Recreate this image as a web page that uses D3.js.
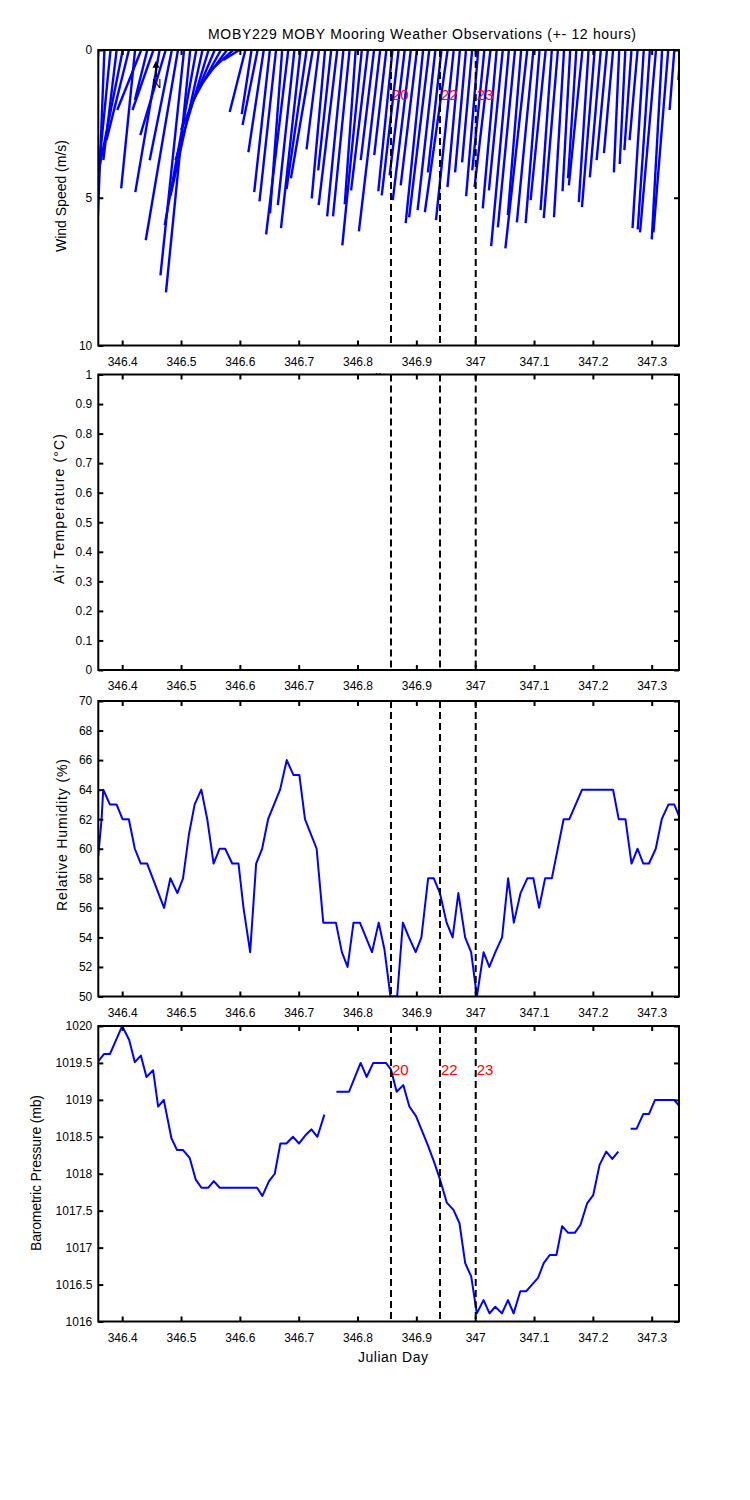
<!DOCTYPE html>
<html>
<head>
<meta charset="utf-8">
<script src="https://cdn.jsdelivr.net/npm/d3@7"></script>
<style>
  body { margin: 0; background: #fff; }
  text { font-family: "Liberation Sans", Arial, sans-serif; }
</style>
</head>
<body>
<svg width="750" height="1500"></svg>
<script>
// wind observations, 15 minute samples
var windDay = [346.3594,346.3698,346.3802,346.3906,346.4010,346.4115,346.4219,346.4323,346.4427,346.4531,
  346.4635,346.4740,346.4844,346.4948,346.5052,346.5156,346.5260,346.5365,346.5469,346.5573,
  346.5677,346.5781,346.5885,346.5990,346.6094,346.6198,346.6302,346.6406,346.6510,346.6615,
  346.6719,346.6823,346.6927,346.7031,346.7135,346.7240,346.7344,346.7448,346.7552,346.7656,
  346.7760,346.7865,346.7969,346.8073,346.8177,346.8281,346.8385,346.8490,346.8594,346.8698,
  346.8802,346.8906,346.9010,346.9115,346.9219,346.9323,346.9427,346.9531,346.9635,346.9740,
  346.9844,346.9948,347.0052,347.0156,347.0260,347.0365,347.0469,347.0573,347.0677,347.0781,
  347.0885,347.0990,347.1094,347.1198,347.1302,347.1406,347.1510,347.1615,347.1719,347.1823,
  347.1927,347.2031,347.2135,347.2240,347.2344,347.2448,347.2552,347.2656,347.2760,347.2865,
  347.2969,347.3073,347.3177,347.3281,347.3385,347.3490];
// east component (m/s)
var windU = [-0.14,-0.22,-0.42,-0.45,-0.81,-0.76,-0.47,-0.81,-0.42,-0.71,
  -0.82,-0.86,-0.75,-1.09,-0.80,-0.82,-1.07,-1.08,-1.12,-1.14,
  -1.02,-0.89,-0.75,-0.54,-0.53,-0.33,-0.51,-0.52,-0.53,-0.56,
  -0.41,-0.75,-0.56,-0.66,-0.68,-0.74,-0.42,-0.45,-0.44,-0.63,
  -0.55,-0.56,-0.37,-0.66,-0.57,-0.45,-0.72,-0.41,-0.48,-0.57,
  -0.51,-0.61,-0.55,-0.59,-0.68,-0.60,-0.46,-0.77,-0.60,-0.42,
  -0.37,-0.34,-0.41,-0.41,-0.54,-0.47,-0.47,-0.60,-0.58,-0.45,
  -0.74,-0.56,-0.47,-0.51,-0.38,-0.48,-0.34,-0.26,-0.28,-0.46,
  -0.33,-0.43,-0.37,-0.35,-0.31,-0.18,-0.19,-0.24,-0.27,-0.38,
  -0.41,-0.54,-0.35,-0.50,-0.16,-0.07];
// north component (m/s), negative = toward south
var windV = [-2.71,-5.59,-4.24,-3.73,-4.07,-3.05,-4.68,-2.03,-1.69,-2.03,
  -4.81,-2.88,-3.73,-6.44,-7.63,-8.20,-5.93,-4.92,-3.73,-2.71,
  -1.86,-1.19,-0.68,-0.34,-2.10,-2.17,-2.54,-3.46,-4.81,-5.12,
  -5.53,-6.24,-5.25,-6.03,-4.71,-4.34,-3.36,-5.02,-4.07,-5.25,
  -5.63,-5.63,-5.22,-6.61,-4.75,-3.73,-6.14,-3.56,-4.78,-4.92,
  -4.24,-5.08,-4.58,-5.86,-5.66,-5.42,-4.14,-5.49,-5.76,-4.64,
  -4.14,-3.80,-4.95,-4.07,-4.64,-5.36,-4.75,-6.64,-6.00,-5.59,
  -6.71,-5.83,-5.86,-5.08,-5.42,-5.69,-5.66,-4.78,-4.34,-4.58,
  -5.15,-5.32,-4.31,-3.73,-3.49,-4.14,-3.86,-3.39,-3.05,-6.03,
  -6.07,-6.17,-6.41,-6.17,-2.03,-1.02];

// air temperature: no observations in this window
var airTempDay = [];
var airTempC = [];

var humidityDay = [346.3593,346.3650,346.3678,346.3791,346.3904,346.4006,346.4113,346.4215,346.4316,346.4424,
  346.4712,346.4819,346.4938,346.5034,346.5136,346.5232,346.5345,346.5446,346.5554,346.5655,
  346.5751,346.5870,346.5977,346.6062,346.6175,346.6277,346.6379,346.6480,346.6684,346.6797,
  346.6910,346.7011,346.7107,346.7305,346.7418,346.7633,346.7734,346.7831,346.7932,346.8040,
  346.8246,346.8360,346.8457,346.8560,346.8674,346.8771,346.8874,346.8989,346.9086,346.9200,
  346.9297,346.9400,346.9514,346.9617,346.9714,346.9829,346.9931,347.0029,347.0143,347.0240,
  347.0343,347.0457,347.0560,347.0657,347.0771,347.0886,347.0989,347.1086,347.1189,347.1303,
  347.1503,347.1600,347.1817,347.2343,347.2440,347.2554,347.2657,347.2760,347.2857,347.2954,
  347.3069,347.3171,347.3286,347.3383,347.3486];
var humidityPct = [59.5,62,64,63,63,62,62,60,59,59,
  56,58,57,58,61,63,64,62,59,60,
  60,59,59,56,53,59,60,62,64,66,
  65,65,62,60,55,55,53,52,55,55,
  53,55,53.2,50,50,55,54,53,54,58,
  58,57,55,54,57,54,53,50,53,52,
  53,54,58,55,57,58,58,56,58,58,
  62,62,64,64,62,62,59,60,59,59,
  60,62,63,63,62];

var pressureDay = [346.3593,346.3689,346.3791,346.4000,346.4119,346.4215,346.4317,346.4413,346.4526,346.4611,
  346.4707,346.4837,346.4933,346.5035,346.5149,346.5251,346.5347,346.5460,346.5557,346.5658,
  346.6292,346.6383,346.6496,346.6593,346.6689,346.6791,346.6904,346.7006,346.7114,346.7216,
  346.7318,346.7437,346.7540,346.7641,346.7856,346.7952,346.8053,346.8155,346.8267,346.8483,
  346.8568,346.8665,346.8778,346.8881,346.8994,346.9091,346.9193,346.9301,346.9403,346.9517,
  346.9631,346.9733,346.9830,346.9932,347.0028,347.0142,347.0244,347.0341,347.0455,347.0557,
  347.0653,347.0767,347.0869,347.0966,347.1068,347.1165,347.1267,347.1381,347.1477,347.1580,
  347.1693,347.1790,347.1903,347.2006,347.2114,347.2227,347.2330,347.2432,347.2540,347.2642,
  347.2744,347.2858,347.2955,347.3057,347.3381,347.3477];
var pressureMb = [1019.52,1019.62,1019.62,1020.00,1019.81,1019.51,1019.60,1019.31,1019.40,1018.91,
  1019.00,1018.48,1018.32,1018.32,1018.21,1017.92,1017.81,1017.81,1017.90,1017.81,
  1017.81,1017.70,1017.90,1018.00,1018.41,1018.41,1018.50,1018.41,1018.52,1018.60,
  1018.50,1018.80,null,1019.11,1019.11,1019.30,1019.50,1019.31,1019.50,1019.50,
  1019.41,1019.11,1019.20,1018.91,1018.78,1018.59,1018.39,1018.16,1017.92,1017.61,
  1017.51,1017.33,1016.79,1016.61,1016.11,1016.29,1016.11,1016.20,1016.11,1016.29,
  1016.11,1016.41,1016.41,1016.50,1016.59,1016.79,1016.90,1016.90,1017.29,1017.20,
  1017.20,1017.31,1017.60,1017.71,1018.12,1018.30,1018.20,1018.30,null,1018.61,
  1018.61,1018.81,1018.81,1019.00,1019.00,1018.91];

// marked events
var eventDay = [346.8569, 346.9402, 347.0009];
var eventLabel = ["20", "22", "23"];

var dayTicks = [346.4, 346.5, 346.6, 346.7, 346.8, 346.9, 347, 347.1, 347.2, 347.3];
var windTicks = [0, 5, 10];
var airTicks = [0, 0.1, 0.2, 0.3, 0.4, 0.5, 0.6, 0.7, 0.8, 0.9, 1];
var humidityTicks = [50, 52, 54, 56, 58, 60, 62, 64, 66, 68, 70];
var pressureTicks = [1016, 1016.5, 1017, 1017.5, 1018, 1018.5, 1019, 1019.5, 1020];

var svg = d3.select("svg");
var left = 98.3, right = 679, ph = 295.5;

var x = d3.scaleLinear().domain([346.3594, 347.3464]).range([left, right]);

svg.append("rect").attr("width", 750).attr("height", 1500).attr("fill", "#fff");

svg.append("text")
  .attr("x", 422).attr("y", 39)
  .attr("text-anchor", "middle")
  .attr("textLength", 428).attr("lengthAdjust", "spacing")
  .style("font-size", "14px")
  .text("MOBY229 MOBY Mooring Weather Observations (+- 12 hours)");

function panel(id, top, domain, ticks, label, labelX, labelY, labelLen, hiddenXLabel) {
  var y = d3.scaleLinear().domain(domain).range([top + ph, top]);
  var g = svg.append("g");

  g.append("rect")
    .attr("x", left).attr("y", top)
    .attr("width", right - left).attr("height", ph)
    .attr("fill", "#fff");

  svg.append("clipPath").attr("id", id)
    .append("rect")
    .attr("x", left).attr("y", top)
    .attr("width", right - left).attr("height", ph);

  var plot = g.append("g").attr("clip-path", "url(#" + id + ")");

  var fmt = function(d) { return String(d); };
  g.append("g").attr("transform", "translate(0," + (top + ph) + ")")
    .call(d3.axisBottom(x).tickValues(dayTicks).tickFormat(fmt).tickSize(-5).tickPadding(11.5));
  g.append("g").attr("transform", "translate(0," + top + ")")
    .call(d3.axisTop(x).tickValues(dayTicks).tickFormat("").tickSize(-5));
  g.append("g").attr("transform", "translate(" + left + ",0)")
    .call(d3.axisLeft(y).tickValues(ticks).tickFormat(fmt).tickSize(-5).tickPadding(6));
  g.append("g").attr("transform", "translate(" + right + ",0)")
    .call(d3.axisRight(y).tickValues(ticks).tickFormat("").tickSize(-5));
  g.selectAll(".domain").remove();
  g.selectAll(".tick line").attr("stroke", "#000").attr("stroke-width", 2);
  g.selectAll(".tick text").attr("fill", "#000").style("font-size", "12px")
    .style("font-family", "'Liberation Sans', Arial, sans-serif");

  g.append("text")
    .attr("transform", "translate(" + labelX + "," + labelY + ") rotate(-90)")
    .attr("text-anchor", "middle")
    .attr("textLength", labelLen).attr("lengthAdjust", "spacing")
    .style("font-size", "14px")
    .text(label);

  if (hiddenXLabel) {
    g.append("text")
      .attr("x", 393).attr("y", top + ph + 38)
      .attr("text-anchor", "middle")
      .style("font-size", "14px")
      .text("Julian Day");
  }

  return { g: g, plot: plot, y: y, top: top };
}

function events(p, withLabels, labelValue) {
  p.plot.selectAll(".ev").data(eventDay).enter().append("line")
    .attr("x1", function(d) { return x(d); })
    .attr("x2", function(d) { return x(d); })
    .attr("y1", p.top).attr("y2", p.top + ph)
    .attr("stroke", "#000").attr("stroke-width", 2)
    .attr("stroke-dasharray", "7,4");
  if (withLabels) {
    p.g.selectAll(".evl").data(eventDay).enter().append("text")
      .attr("x", function(d) { return x(d) + 1; })
      .attr("y", p.y(labelValue))
      .attr("fill", "#ff0000")
      .style("font-size", "15px")
      .text(function(d, i) { return eventLabel[i]; });
  }
}

function box(p) {
  p.g.append("rect")
    .attr("x", left).attr("y", p.top)
    .attr("width", right - left).attr("height", ph)
    .attr("fill", "none").attr("stroke", "#000").attr("stroke-width", 2);
}

// ---- wind stick panel (y reversed: 0 at top)
var p1 = panel("c1", 50, [10, 0], windTicks, "Wind Speed (m/s)", 66, 196, 112, true);
var k = p1.y(1) - p1.y(0); // pixels per m/s
p1.plot.selectAll(".stick").data(windDay).enter().append("line")
  .attr("x1", function(d) { return x(d); })
  .attr("y1", p1.y(0))
  .attr("x2", function(d, i) { return x(d) + windU[i] * k; })
  .attr("y2", function(d, i) { return p1.y(-windV[i]); })
  .attr("stroke", "#0000ff").attr("stroke-width", 2.4);

// north arrow
var northDay = 346.4575;
p1.g.append("line")
  .attr("x1", x(northDay)).attr("x2", x(northDay))
  .attr("y1", p1.y(0.92)).attr("y2", p1.y(0.5))
  .attr("stroke", "#000").attr("stroke-width", 2);
p1.g.append("path")
  .attr("d", "M" + (x(northDay) - 3.5) + "," + p1.y(0.6) + "L" + x(northDay) + "," + p1.y(0.36) +
    "L" + (x(northDay) + 3.5) + "," + p1.y(0.6) + "Z")
  .attr("fill", "#000");
p1.g.append("text")
  .attr("x", x(northDay) - 4).attr("y", p1.y(1.28))
  .style("font-size", "13px").style("font-weight", "lighter")
  .text("N");

events(p1, true, 1.7);
box(p1);

// ---- air temperature
var p2 = panel("c2", 374.5, [0, 1], airTicks, "Air Temperature (\u00B0C)", 64, 509, 150, false);
p2.plot.append("path")
  .datum(airTempDay)
  .attr("fill", "none").attr("stroke", "#0000ff").attr("stroke-width", 2)
  .attr("d", d3.line().x(function(d) { return x(d); }).y(function(d, i) { return p2.y(airTempC[i]); }));
events(p2, false);
box(p2);

// ---- relative humidity
var p3 = panel("c3", 701, [50, 70], humidityTicks, "Relative Humidity (%)", 67, 835, 152, false);
p3.plot.append("path")
  .datum(humidityDay)
  .attr("fill", "none").attr("stroke", "#0000ff").attr("stroke-width", 2)
  .attr("stroke-linejoin", "round")
  .attr("d", d3.line().x(function(d) { return x(d); }).y(function(d, i) { return p3.y(humidityPct[i]); }));
events(p3, false);
box(p3);

// ---- barometric pressure
var p4 = panel("c4", 1026, [1016, 1020], pressureTicks, "Barometric Pressure (mb)", 41, 1173, 156, false);
p4.plot.append("path")
  .datum(pressureDay)
  .attr("fill", "none").attr("stroke", "#0000ff").attr("stroke-width", 2)
  .attr("stroke-linejoin", "round")
  .attr("d", d3.line()
    .defined(function(d, i) { return pressureMb[i] !== null; })
    .x(function(d) { return x(d); })
    .y(function(d, i) { return p4.y(pressureMb[i]); }));
events(p4, true, 1019.34);
box(p4);

svg.append("text")
  .attr("x", 393).attr("y", 1362)
  .attr("text-anchor", "middle")
  .attr("textLength", 70).attr("lengthAdjust", "spacing")
  .style("font-size", "14px")
  .text("Julian Day");
</script>
</body>
</html>
